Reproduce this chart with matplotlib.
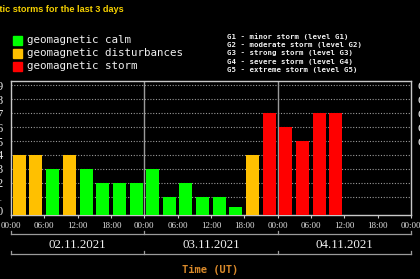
import matplotlib
matplotlib.use("Agg")
import matplotlib.pyplot as plt

# --- DATA (Kp index per 3-hour slot) ---
kp_values = [4, 4, 3, 4, 3, 2, 2, 2,
             3, 1, 2, 1, 1, 0.25, 4, 7,
             6, 5, 7, 7]
n_slots = 24
days = ["02.11.2021", "03.11.2021", "04.11.2021"]
hour_labels = ["00:00", "06:00", "12:00", "18:00"]
legend_labels = ["geomagnetic calm", "geomagnetic disturbances", "geomagnetic storm"]
g_levels = ["G1 - minor storm (level G1)",
            "G2 - moderate storm (level G2)",
            "G3 - strong storm (level G3)",
            "G4 - severe storm (level G4)",
            "G5 - extreme storm (level G5)"]
g_ticks = [5, 6, 7, 8, 9]
g_names = ["G1", "G2", "G3", "G4", "G5"]

# --- STYLE ---
GREEN = "#00ff00"
ORANGE = "#ffc000"
RED = "#ff0000"
GRAY = "#9a9a9a"
YMIN, YMAX = -0.29, 9.29


def bar_color(v):
    if v < 4:
        return GREEN
    if v < 5:
        return ORANGE
    return RED


fig = plt.figure(figsize=(4.2, 2.79), dpi=100, facecolor="black")
ax = fig.add_axes([11 / 420, 1 - 215 / 279, 400 / 420, 134 / 279], facecolor="black")

xs = [i + 0.5 for i in range(len(kp_values))]
ax.bar(xs, [v - YMIN for v in kp_values], bottom=YMIN, width=0.78,
       color=[bar_color(v) for v in kp_values], zorder=3)

ax.set_xlim(0, n_slots)
ax.set_ylim(YMIN, YMAX)

# dotted grid + day separators
for y in range(1, 10):
    ax.axhline(y, color=GRAY, lw=0.8, ls=(0, (1, 1.5)), zorder=1)
for d in (8, 16):
    ax.axvline(d, color=GRAY, lw=1.0, zorder=2)

for s in ax.spines.values():
    s.set_color("#c8c8c8")
    s.set_linewidth(1.0)

ax.set_xticks(range(0, n_slots + 1, 2))
ax.set_xticklabels([hour_labels[(i // 2) % 4] for i in range(0, n_slots + 1, 2)],
                   family="Liberation Serif", fontsize=6.5, color="#e0e0e0")
ax.tick_params(axis="x", colors="#c8c8c8", length=2, pad=3, labelcolor="#e0e0e0")

ax.set_yticks(range(0, 10))
ax.set_yticklabels([str(i) for i in range(10)], family="Liberation Serif",
                   fontsize=9, color="#e0e0e0")
ax.tick_params(axis="y", length=0, pad=6)

ax2 = ax.twinx()
ax2.set_ylim(YMIN, YMAX)
ax2.set_yticks(g_ticks)
ax2.set_yticklabels(g_names, family="Liberation Serif", fontsize=9, color="#e0e0e0")
ax2.tick_params(axis="y", length=0, pad=5)
for s in ax2.spines.values():
    s.set_visible(False)

# date brackets below the axis
tr = ax.get_xaxis_transform()
for yb in (-0.142, -0.291):
    ax.plot([0, n_slots], [yb, yb], color=GRAY, lw=0.9, transform=tr, clip_on=False)
    for d in (0, 8, 16, 24):
        ax.plot([d, d], [yb, yb + 0.025], color=GRAY, lw=0.9, transform=tr, clip_on=False)
for i, day in enumerate(days):
    ax.text(i * 8 + 4, -0.222, day, transform=tr, ha="center", va="center",
            family="Liberation Serif", fontsize=9.3, color="#f0f0f0")

fig.text(210 / 420, 1 - 270 / 279, "Time (UT)", ha="center", va="center",
         family="DejaVu Sans Mono", fontsize=7.5, color="#d9892a", weight="bold")

# title (clipped on the left like the source)
fig.text(124 / 420, 1 - 10 / 279, "Geomagnetic storms for the last 3 days",
         ha="right", va="center", family="Liberation Sans", fontsize=6.6,
         color="#f5d000", weight="bold")

# legend
for i, (lab, col) in enumerate(zip(legend_labels, [GREEN, ORANGE, RED])):
    yc = 1 - (40 + i * 13) / 279
    fig.patches.append(plt.Rectangle((13 / 420, yc - 4.5 / 279), 9 / 420, 9 / 279,
                                     transform=fig.transFigure, color=col))
    fig.text(27 / 420, yc, lab, ha="left", va="center", family="DejaVu Sans Mono",
             fontsize=7.8, color="#f0f0f0")

for i, lab in enumerate(g_levels):
    fig.text(227 / 420, 1 - (37 + i * 8.2) / 279, lab, ha="left", va="center",
             family="DejaVu Sans Mono", fontsize=5.3, color="#f0f0f0", weight="bold")

fig.savefig("out.png", dpi=100, facecolor="black")
